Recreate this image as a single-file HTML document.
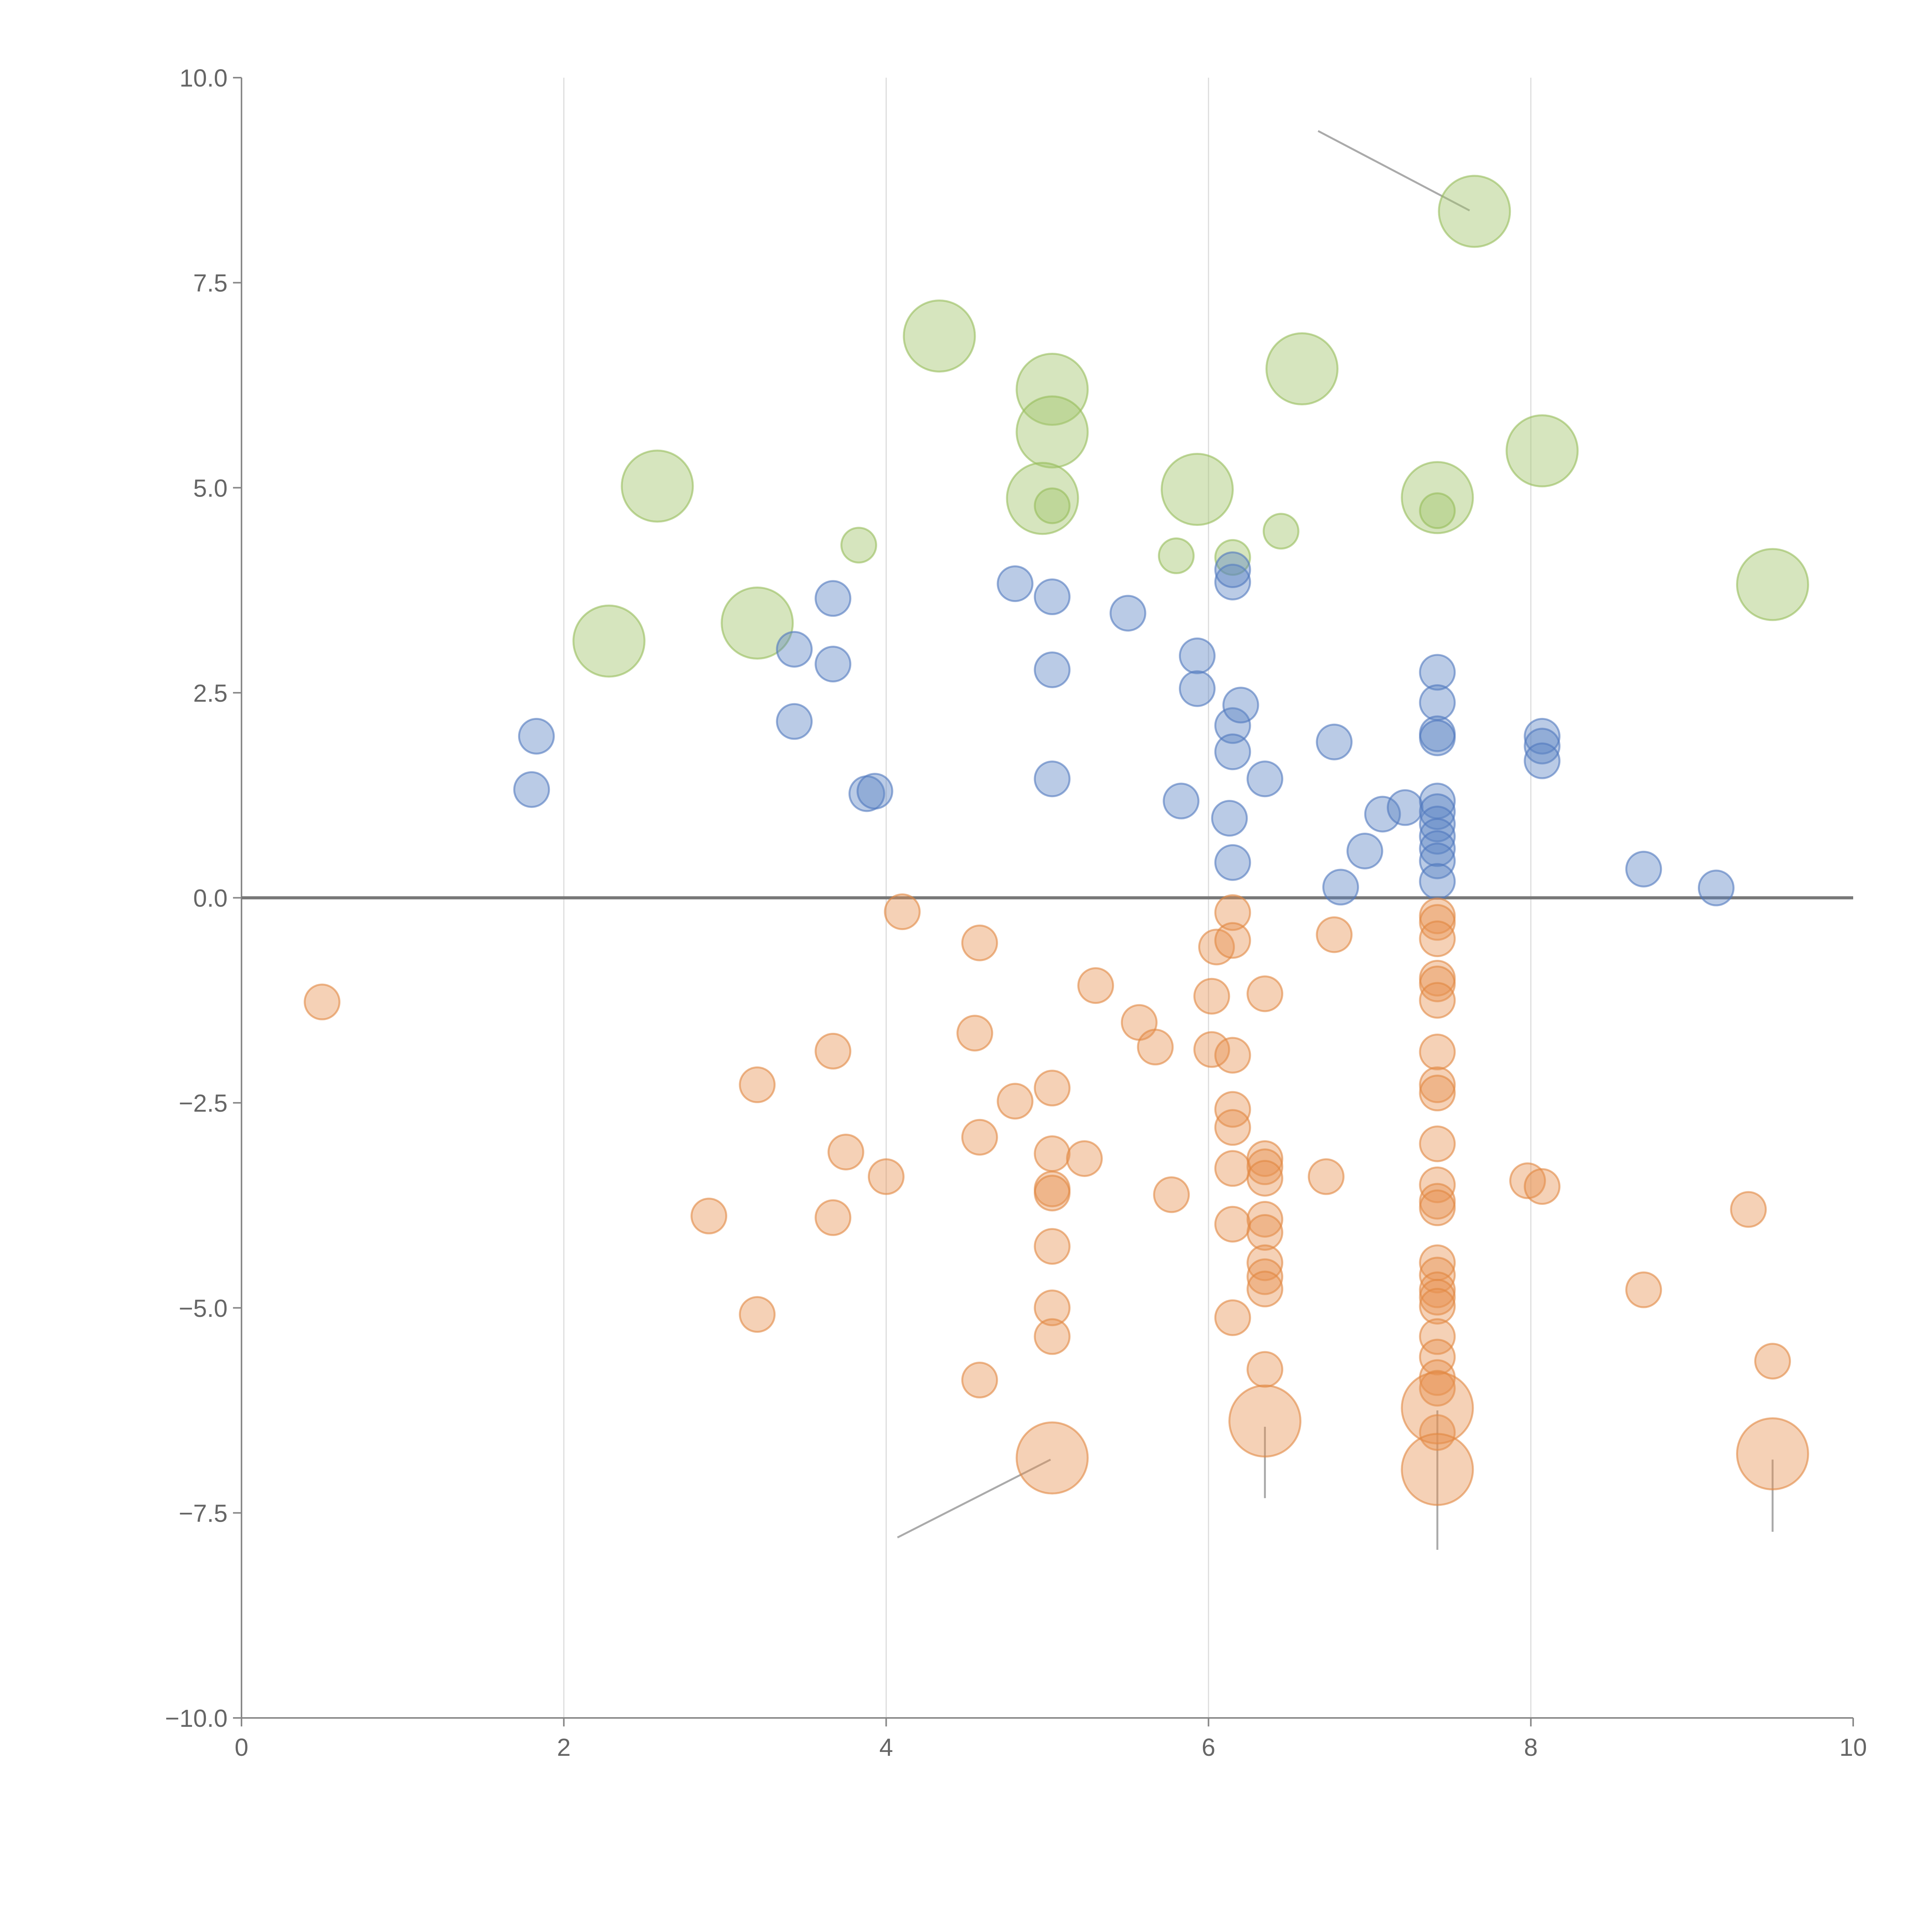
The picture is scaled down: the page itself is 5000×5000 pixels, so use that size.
<!DOCTYPE html>
<html><head><meta charset="utf-8"><style>
html,body{margin:0;padding:0;background:#fff;}
svg{display:block;font-family:"Liberation Sans",sans-serif;}
</style></head><body>
<svg id="chart" width="5000" height="5000" viewBox="0 0 5000 5000" xmlns="http://www.w3.org/2000/svg">
<g id="grid"></g>
<g id="axes"></g>
<g id="leaders"></g>
<g id="marks"></g>
</svg>
<script>
const xTicks=[0,2,4,6,8,10];
const yTicks=[-10,-7.5,-5,-2.5,0,2.5,5,7.5,10];
const yTickLabels=["\u221210.0","\u22127.5","\u22125.0","\u22122.5","0.0","2.5","5.0","7.5","10.0"];
const blueX=[1.83,1.8,3.43,3.43,3.67,3.67,3.88,3.93,4.8,5.03,5.03,5.03,5.5,5.83,5.93,5.93,6.13,6.15,6.15,6.15,6.15,6.15,6.2,6.35,6.78,6.82,6.97,7.08,7.22,7.42,7.42,7.42,7.42,7.42,7.42,7.42,7.42,7.42,7.42,7.42,8.07,8.07,8.07,8.7,9.15];
const blueY=[1.97,1.32,3.03,2.15,3.65,2.85,1.27,1.3,3.83,3.67,2.78,1.45,3.47,1.18,2.95,2.55,0.97,2.1,1.78,0.43,3.85,4.0,2.35,1.45,1.9,0.13,0.57,1.02,1.1,2.75,2.38,2.0,1.95,1.18,1.05,0.9,0.75,0.6,0.45,0.2,1.97,1.85,1.67,0.35,0.12];
const orangeX=[
0.5, 2.9, 3.2,3.2, 3.67,3.67, 3.75, 4.0, 4.1, 4.55, 4.58,4.58,4.58, 4.8,
5.03,5.03,5.03,5.03,5.03,5.03,5.03, 5.23, 5.3, 5.57, 5.67, 5.77, 6.02,6.02, 6.05,
6.15,6.15,6.15,6.15,6.15,6.15,6.15,6.15,
6.35,6.35,6.35,6.35,6.35,6.35,6.35,6.35,6.35,6.35,
6.73, 6.78,
7.42,7.42,7.42,7.42,7.42,7.42,7.42,7.42,7.42,7.42,7.42,7.42,7.42,7.42,7.42,7.42,7.42,7.42,7.42,7.42,7.42,7.42,7.42,
7.98, 8.07, 8.7, 9.35, 9.5];
const orangeY=[
-1.27, -3.88, -2.28,-5.08, -1.87,-3.9, -3.1, -3.4, -0.17, -1.65, -0.55,-2.92,-5.88, -2.48,
-2.32,-3.12,-3.55,-3.6,-4.25,-5.0,-5.35, -3.18, -1.07, -1.52, -1.82, -3.62, -1.2,-1.85, -0.6,
-0.18,-0.52,-1.92,-2.58,-2.8,-3.3,-3.98,-5.12,
-1.17,-3.18,-3.28,-3.42,-3.92,-4.08,-4.45,-4.62,-4.77,-5.75,
-3.4, -0.45,
-0.22,-0.3,-0.5,-0.98,-1.05,-1.25,-1.88,-2.28,-2.38,-3.0,-3.5,-3.7,-3.78,-4.45,-4.6,-4.78,-4.87,-4.98,-5.35,-5.6,-5.85,-5.98,-6.52,
-3.45, -3.52, -4.78, -3.8, -5.65];
const orangeBigX=[5.03,6.35,7.42,7.42,9.5];
const orangeBigY=[-6.83,-6.38,-6.22,-6.97,-6.78];
const greenSmallX=[3.83,5.03,5.8,6.15,6.45,7.42];
const greenSmallY=[4.3,4.78,4.17,4.15,4.47,4.72];
const greenBigX=[2.28,2.58,3.2,4.33,5.03,5.03,4.97,5.93,6.58,7.42,8.07,7.65,9.5];
const greenBigY=[3.13,5.02,3.35,6.85,6.2,5.68,4.87,4.98,6.45,4.88,5.45,8.37,3.82];
const leaderFrom=[[6.68,9.35],[4.07,-7.8],[6.35,-6.45],[7.42,-6.25],[9.5,-6.85]];
const leaderTo=[[7.62,8.38],[5.02,-6.85],[6.35,-7.32],[7.42,-7.95],[9.5,-7.73]];

const X0=625,X1=4796,Y0=4446,Y1=201;
const sx=v=>X0+(v-0)/(10-0)*(X1-X0);
const sy=v=>Y0-(v+10)/20*(Y0-Y1);
const NS="http://www.w3.org/2000/svg";
function mk(tag,parent,attrs){const e=document.createElementNS(NS,tag);for(const k in attrs)e.setAttribute(k,attrs[k]);parent.appendChild(e);return e;}
const grid=document.getElementById('grid'),axes=document.getElementById('axes'),marks=document.getElementById('marks'),leaders=document.getElementById('leaders');
xTicks.forEach((t,i)=>{
  if(t>0&&t<10){const g=mk('line',grid,{x1:sx(t),x2:sx(t),y1:Y1,y2:Y0,stroke:'#dddddd','stroke-width':3});
  
  }
  const tk=mk('line',axes,{x1:sx(t),x2:sx(t),y1:Y0,y2:Y0+22,stroke:'#888','stroke-width':4});
  
  
  const tx=mk('text',axes,{x:sx(t),y:Y0+98,'font-size':64,fill:'#666','text-anchor':'middle'});
  tx.textContent=String(t);
  
  
});
yTicks.forEach((t,i)=>{
  const tk=mk('line',axes,{x1:X0-22,x2:X0,y1:sy(t),y2:sy(t),stroke:'#888','stroke-width':4});
  
  
  const tx=mk('text',axes,{x:X0-36,y:sy(t)+23,'font-size':64,fill:'#666','text-anchor':'end'});
  tx.textContent=yTickLabels[i];
  
  
});
let a=mk('line',axes,{x1:X0,x2:X0,y1:Y1,y2:Y0,stroke:'#888','stroke-width':4});


a=mk('line',axes,{x1:X0,x2:X1,y1:Y0,y2:Y0,stroke:'#888','stroke-width':4});


a=mk('line',axes,{x1:X0,x2:X1,y1:sy(0),y2:sy(0),stroke:'#777','stroke-width':8});


leaderFrom.forEach((f,i)=>{
  const l=mk('line',leaders,{x1:sx(f[0]),y1:sy(f[1]),x2:sx(leaderTo[i][0]),y2:sy(leaderTo[i][1]),stroke:'#aaa','stroke-width':5});
  
  
});
function series(xs,ys,r,fill,stroke,name){
  xs.forEach((x,i)=>{
    const c=mk('circle',marks,{cx:sx(x),cy:sy(ys[i]),r:r,fill:fill,stroke:stroke,'stroke-width':5});
    
    
  });
}
const G=['rgba(165,198,110,0.45)','rgba(150,188,90,0.6)'];
const B=['rgba(90,130,195,0.42)','rgba(80,120,190,0.6)'];
const O=['rgba(232,145,80,0.42)','rgba(225,135,65,0.6)'];
series(greenBigX,greenBigY,92,G[0],G[1],'green-bubble-large');
series(greenSmallX,greenSmallY,45,G[0],G[1],'green-bubble-small');
series(blueX,blueY,45,B[0],B[1],'blue-bubble');
series(orangeX,orangeY,45,O[0],O[1],'orange-bubble');
series(orangeBigX,orangeBigY,92,O[0],O[1],'orange-bubble-large');
</script>
</body></html>
